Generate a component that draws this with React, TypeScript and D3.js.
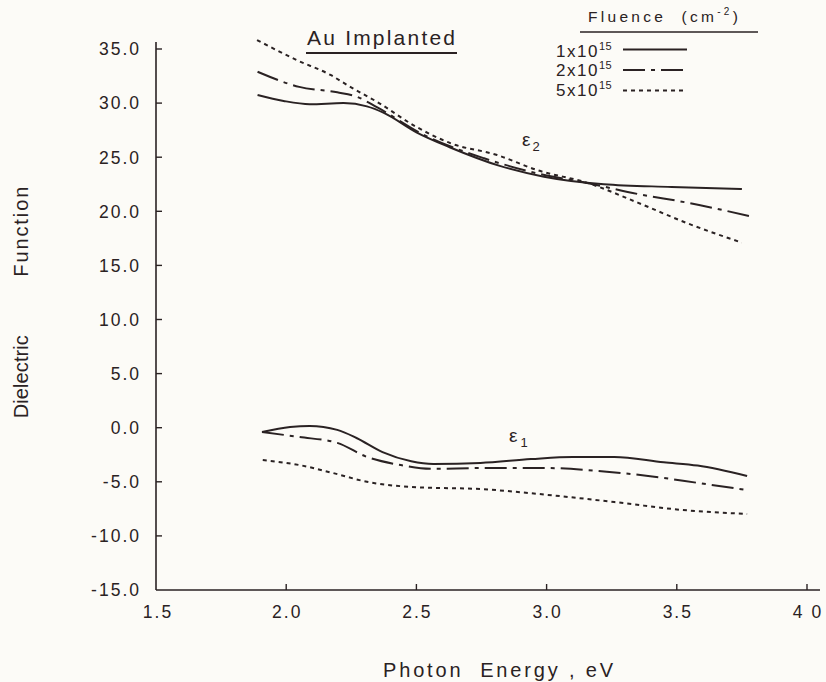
import React from "react";
import * as d3 from "d3";

// ---- data ----
const xTicks = [1.5, 2.0, 2.5, 3.0, 3.5, 4.0];
const xTickLabels = ["1.5", "2.0", "2.5", "3.0", "3.5", "4 0"];
const yTicks = [35, 30, 25, 20, 15, 10, 5, 0, -5, -10, -15];
const yTickLabels = ["35.0", "30.0", "25.0", "20.0", "15.0", "10.0", "5.0", "0.0", "-5.0", "-10.0", "-15.0"];

// epsilon 2
const e2_1e15_x = [1.89, 1.99, 2.09, 2.22, 2.31, 2.375, 2.5, 2.63, 2.82, 2.99, 3.22, 3.48, 3.75];
const e2_1e15_y = [30.75, 30.2, 29.9, 30.0, 29.7, 29.1, 27.3, 25.9, 24.2, 23.2, 22.5, 22.25, 22.05];
const e2_2e15_x = [1.89, 2.05, 2.196, 2.27, 2.35, 2.53, 2.76, 2.965, 3.16, 3.35, 3.54, 3.79];
const e2_2e15_y = [32.9, 31.5, 31.0, 30.6, 29.6, 27.05, 24.9, 23.5, 22.6, 21.6, 20.8, 19.5];
const e2_5e15_x = [1.888, 2.04, 2.17, 2.246, 2.35, 2.5, 2.63, 2.81, 2.965, 3.16, 3.35, 3.54, 3.75];
const e2_5e15_y = [35.83, 33.98, 32.6, 31.5, 30.1, 27.8, 26.3, 25.2, 23.8, 22.6, 20.8, 18.9, 17.1];

// epsilon 1
const e1_1e15_x = [1.907, 2.015, 2.09, 2.196, 2.27, 2.37, 2.48, 2.565, 2.746, 2.94, 3.1, 3.26, 3.45, 3.58, 3.77];
const e1_1e15_y = [-0.4, 0.06, 0.16, -0.2, -0.95, -2.25, -3.1, -3.35, -3.26, -2.9, -2.7, -2.7, -3.2, -3.5, -4.46];
const e1_2e15_x = [1.907, 2.05, 2.196, 2.31, 2.44, 2.565, 2.746, 3.0, 3.2, 3.39, 3.58, 3.77];
const e1_2e15_y = [-0.4, -0.86, -1.4, -2.7, -3.45, -3.8, -3.73, -3.73, -4.0, -4.46, -5.1, -5.76];
const e1_5e15_x = [1.91, 2.05, 2.18, 2.31, 2.5, 2.746, 3.0, 3.26, 3.52, 3.77];
const e1_5e15_y = [-2.99, -3.45, -4.19, -5.0, -5.5, -5.67, -6.2, -6.87, -7.6, -7.97];

const legendLabels = ["1x10", "2x10", "5x10"];
const legendExp = "15";

const W = 826;
const H = 682;
const INK = "#2a2223";
const FONT = "'Liberation Sans', Arial, sans-serif";

const dashes = ["", "22 6 4 6", "4 4"];

export default function App() {
  const x = d3.scaleLinear().domain([1.5, 4.0]).range([156, 807]);
  const y = d3.scaleLinear().domain([-15, 35]).range([590, 49]);
  const line = d3
    .line<[number, number]>()
    .x((d) => x(d[0]))
    .y((d) => y(d[1]))
    .curve(d3.curveMonotoneX);
  const zip = (a: number[], b: number[]) => a.map((v, i) => [v, b[i]] as [number, number]);

  const series = [
    { pts: zip(e2_1e15_x, e2_1e15_y), k: 0 },
    { pts: zip(e2_2e15_x, e2_2e15_y), k: 1 },
    { pts: zip(e2_5e15_x, e2_5e15_y), k: 2 },
    { pts: zip(e1_1e15_x, e1_1e15_y), k: 0 },
    { pts: zip(e1_2e15_x, e1_2e15_y), k: 1 },
    { pts: zip(e1_5e15_x, e1_5e15_y), k: 2 },
  ];

  const x0 = x(1.5);
  const yBottom = y(-15);
  const yTop = y(35) - 7;
  const legendY = [57, 76, 96];
  const legendLineY = [49.5, 70, 90.5];

  return (
    <svg
      width={W}
      height={H}
      style={{ position: "absolute", left: 0, top: 0, background: "#fcfbf7" }}
      fontFamily={FONT}
    >
      <rect x={0} y={0} width={W} height={H} fill="#fcfbf7" />
      {/* axes */}
      <line x1={x0} y1={yTop} x2={x0} y2={yBottom} stroke={INK} strokeWidth={1.6} />
      <line x1={x0} y1={yBottom} x2={820} y2={yBottom} stroke={INK} strokeWidth={1.6} />
      {yTicks.map((t, i) => (
        <g key={"yt" + i}>
          {t !== -15 && (
            <line x1={x0} x2={x0 + 6} y1={y(t)} y2={y(t)} stroke={INK} strokeWidth={1.4} />
          )}
          <text
            x={141}
            y={y(t)}
            dy="0.36em"
            textAnchor="end"
            fontSize={17.5}
            letterSpacing={2}
            fill={INK}
          >
            {yTickLabels[i]}
          </text>
        </g>
      ))}
      {xTicks.map((t, i) => (
        <g key={"xt" + i}>
          {i > 0 && (
            <line x1={x(t)} x2={x(t)} y1={yBottom} y2={yBottom - 6} stroke={INK} strokeWidth={1.4} />
          )}
          <text
            x={x(t) + (i === 0 ? 2 : 1)}
            y={618}
            textAnchor="middle"
            fontSize={17.5}
            letterSpacing={2}
            fill={INK}
          >
            {xTickLabels[i]}
          </text>
        </g>
      ))}

      {/* curves */}
      {series.map((s, i) => (
        <path
          key={"s" + i}
          d={line(s.pts) || ""}
          fill="none"
          stroke={INK}
          strokeWidth={2}
          strokeDasharray={dashes[s.k] || undefined}
        />
      ))}

      {/* curve labels */}
      <text x={522} y={146} fontSize={19} fill={INK}>
        ε
        <tspan fontSize={13} dx={2} dy={5}>2</tspan>
      </text>
      <text x={509} y={442} fontSize={19} fill={INK}>
        ε
        <tspan fontSize={13} dx={3} dy={5}>1</tspan>
      </text>

      {/* title */}
      <text x={307} y={45} fontSize={21} textLength={148} lengthAdjust="spacing" fill={INK}>
        Au Implanted
      </text>
      <line x1={306} x2={457} y1={53} y2={53} stroke={INK} strokeWidth={2.2} />

      {/* legend */}
      <text x={588} y={22} fontSize={15.5} letterSpacing={3.3} fill={INK} style={{ whiteSpace: "pre" }}>
        {"Fluence  (cm"}
        <tspan fontSize={10} dy={-7}>-2</tspan>
        <tspan dy={7}>)</tspan>
      </text>
      <line x1={580} x2={758} y1={32} y2={32} stroke={INK} strokeWidth={1.6} />
      {legendLabels.map((l, i) => (
        <g key={"lg" + i}>
          <text x={556} y={legendY[i]} fontSize={17} letterSpacing={1.5} fill={INK}>
            {l}
            <tspan fontSize={11} dy={-7} letterSpacing={0.5}>{legendExp}</tspan>
          </text>
          <line
            x1={623}
            x2={687}
            y1={legendLineY[i]}
            y2={legendLineY[i]}
            stroke={INK}
            strokeWidth={1.8}
            strokeDasharray={dashes[i] || undefined}
          />
        </g>
      ))}

      {/* axis titles */}
      <text x={383} y={677} fontSize={20} textLength={230} lengthAdjust="spacing" fill={INK} style={{ whiteSpace: "pre" }}>
        {"Photon  Energy , eV"}
      </text>
      <text
        transform={`translate(28, ${376.7}) rotate(-90)`}
        textAnchor="middle"
        fontSize={20}
        fill={INK}
        textLength={83}
        lengthAdjust="spacing"
      >
        Dielectric
      </text>
      <text
        transform={`translate(28, ${231.7}) rotate(-90)`}
        textAnchor="middle"
        fontSize={20}
        fill={INK}
        textLength={90}
        lengthAdjust="spacing"
      >
        Function
      </text>
    </svg>
  );
}
